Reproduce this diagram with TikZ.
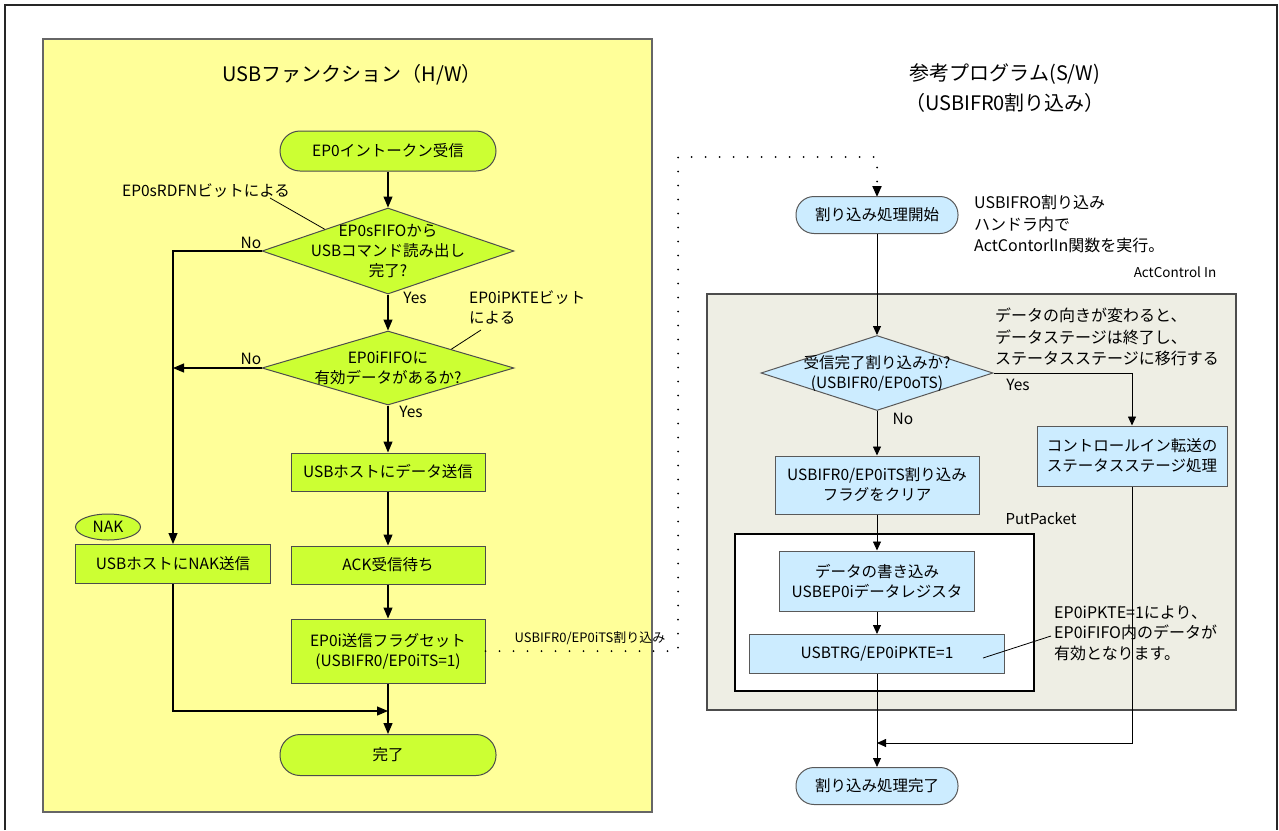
\documentclass[tikz,border=0pt]{standalone}
\usepackage{fontspec}
\setmainfont{Noto Sans CJK JP}
\usetikzlibrary{shapes,arrows.meta,positioning}

\definecolor{hwyellow}{HTML}{FFFF99}
\definecolor{hwgreen}{HTML}{CCFF33}
\definecolor{swblue}{HTML}{CCECFF}
\definecolor{swgrey}{HTML}{EEEEE4}

\begin{document}
\begin{tikzpicture}[x=1pt, y=-1pt,
	every node/.style={font=\fontsize{15.5}{20}\selectfont, align=center, inner sep=0pt},
	hwbox/.style={draw=black!70, fill=hwgreen, line width=1pt},
	hwterm/.style={hwbox, rounded corners=20pt},
	hwdia/.style={hwbox, diamond},
	swbox/.style={draw=black!65, fill=swblue, line width=1pt},
	swterm/.style={swbox, rounded corners=18pt},
	swdia/.style={swbox, diamond},
	note/.style={font=\fontsize{16}{21.5}\selectfont, align=left, anchor=west},
	arr/.style={-{Triangle[length=11pt,width=9pt]}, line width=1.2pt},
	sarr/.style={-{Triangle[length=9pt,width=8pt]}, line width=0.9pt},
	lead/.style={line width=0.8pt},
	dotline/.style={line width=2pt, line cap=round, dash pattern=on 0pt off 14pt}]
	\useasboundingbox (0,0) rectangle (1279,830);
	\draw[line width=2pt, black!85] (5,830) -- (5,5) -- (1277,5) -- (1277,830);
	
	% USB function (H/W)
	\draw[fill=hwyellow, draw=black!60, line width=1.5pt] (43,39) rectangle (652,812);
	\node[font=\fontsize{20}{24}\selectfont] (hwtitle) at (352,75) {USBファンクション（H/W）};
	
	\node[hwterm, minimum width=216, minimum height=40] (in) at (388,151) {EP0イントークン受信};
	\node[hwdia, minimum width=252, minimum height=86,
		label={[align=center]center:EP0sFIFOから\\USBコマンド読み出し\\完了?}] (rdfn) at (388,251) {};
	\node[hwdia, minimum width=252, minimum height=74,
		label={[align=center]center:EP0iFIFOに\\有効データがあるか?}] (pkte) at (388,368) {};
	\node[hwbox, minimum width=194, minimum height=38] (send) at (388,472) {USBホストにデータ送信};
	\node[hwbox, minimum width=194, minimum height=38] (ack) at (388,565) {ACK受信待ち};
	\node[hwbox, minimum width=194, minimum height=64] (flag) at (388,651) {EP0i送信フラグセット\\(USBIFR0/EP0iTS=1)};
	\node[hwterm, minimum width=216, minimum height=41] (done) at (388,755) {完了};
	\node[hwbox, minimum width=195, minimum height=39] (nakbox) at (173,564) {USBホストにNAK送信};
	\node[hwbox, ellipse, minimum width=65, minimum height=26] (nak) at (108,527) {NAK};
	
	\node (rdfnnote) at (206,191) {EP0sRDFNビットによる};
	\node[note, font=\fontsize{15.5}{20}\selectfont] (pktenote) at (469,307) {EP0iPKTEビット\\による};
	\node (no1) at (251,243) {No};
	\node (yes1) at (415,298) {Yes};
	\node (no2) at (251,359) {No};
	\node (yes2) at (411,412) {Yes};
	
	\coordinate (hwjoin) at (388,711);
	\draw[lead] (270,198) -- (rdfn.north west);
	\draw[lead] (481,330) -- (pkte.north east);
	\draw[arr] (in.south) -- (rdfn.north);
	\draw[arr] (rdfn.south) -- (pkte.north);
	\draw[arr] (pkte.south) -- (send.north);
	\draw[arr] (send.south) -- (ack.north);
	\draw[arr] (ack.south) -- (flag.north);
	\draw[arr] (flag.south) -- (done.north);
	\draw[arr] (rdfn.west) -| (nakbox.north);
	\draw[arr] (pkte.west) -- (pkte.west -| nakbox.north);
	\draw[arr] (nakbox.south) |- (hwjoin);
	
	% interrupt
	\node[font=\fontsize{13}{15}\selectfont] (itlabel) at (590,638) {USBIFR0/EP0iTS割り込み};
	\draw[dotline, -{Triangle[length=11pt,width=9pt]}] (flag.east) -| (678,157) -| (877,197);
	
	% reference program (S/W)
	\node[font=\fontsize{20}{30}\selectfont] (swtitle) at (1005,88) {参考プログラム(S/W)\\（USBIFR0割り込み）};
	\node[swterm, minimum width=162, minimum height=37] (isrstart) at (877,215) {割り込み処理開始};
	\node[note] (isrnote) at (974,224) {USBIFRO割り込み\\ハンドラ内で\\ActContorlIn関数を実行。};
	\node[font=\fontsize{13.5}{16}\selectfont] (actlabel) at (1175,272) {ActControl In};
	
	\draw[fill=swgrey, draw=black!70, line width=1.2pt] (707,294) rectangle (1236,710);
	\node[note] (dirnote) at (995,337) {データの向きが変わると、\\データステージは終了し、\\ステータスステージに移行する};
	\node[font=\fontsize{15}{18}\selectfont] (pplabel) at (1041,519) {PutPacket};
	\draw[fill=white, draw=black, line width=2.5pt] (735,534) rectangle (1034,691);
	
	\node[swdia, minimum width=232, minimum height=75,
		label={[align=center]center:受信完了割り込みか?\\(USBIFR0/EP0oTS)}] (ots) at (877,373) {};
	\node[swbox, minimum width=204, minimum height=58] (clrflag) at (877,485) {USBIFR0/EP0iTS割り込み\\フラグをクリア};
	\node[swbox, minimum width=190, minimum height=60] (status) at (1132,456) {コントロールイン転送の\\ステータスステージ処理};
	\node[swbox, minimum width=195, minimum height=60] (wrdata) at (877,581) {データの書き込み\\USBEP0iデータレジスタ};
	\node[swbox, minimum width=255, minimum height=39] (trg) at (877,654) {USBTRG/EP0iPKTE=1};
	\node[swterm, minimum width=162, minimum height=37] (isrend) at (877,786) {割り込み処理完了};
	\node[note, font=\fontsize{16}{20.5}\selectfont] (pktnote) at (1054,633) {EP0iPKTE=1により、\\EP0iFIFO内のデータが\\有効となります。};
	\node (yes3) at (1018,385) {Yes};
	\node (no3) at (903,419) {No};
	
	\coordinate (swjoin) at (877,743);
	\draw[lead] (1051,636) -- (983,658);
	\draw[sarr] (isrstart.south) -- (ots.north);
	\draw[sarr] (ots.east) -| (status.north);
	\draw[sarr] (ots.south) -- (clrflag.north);
	\draw[sarr] (clrflag.south) -- (wrdata.north);
	\draw[sarr] (wrdata.south) -- (trg.north);
	\draw[sarr] (trg.south) -- (isrend.north);
	\draw[sarr] (status.south) |- (swjoin);
\end{tikzpicture}
\end{document}
